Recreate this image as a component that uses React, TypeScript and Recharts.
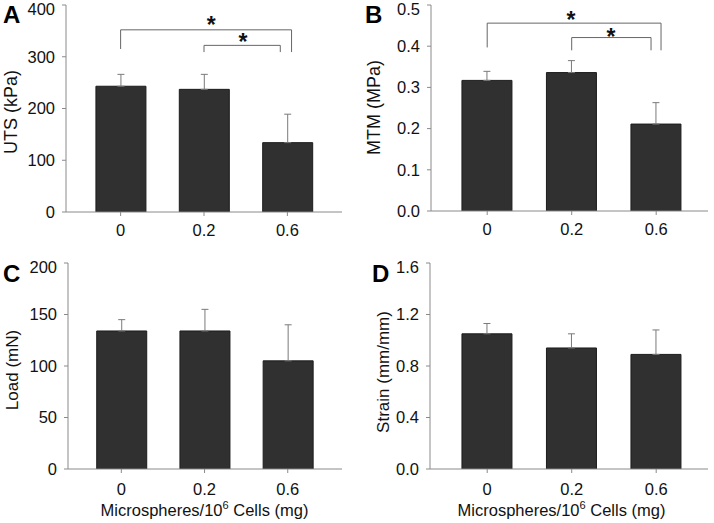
import React from 'react';
import { BarChart, Bar, XAxis, YAxis, ErrorBar, ReferenceLine, ReferenceDot } from 'recharts';

const FONT = '"Liberation Sans", Arial, Helvetica, sans-serif';

// ---- data ----
const categories = ['0', '0.2', '0.6'];
const utsMean = [243, 237, 134];
const utsErr = [23, 29, 55];
const mtmMean = [0.317, 0.336, 0.211];
const mtmErr = [0.022, 0.029, 0.052];
const loadMean = [134, 134, 105];
const loadErr = [11, 21, 35];
const strainMean = [1.05, 0.94, 0.89];
const strainErr = [0.08, 0.11, 0.19];

const utsTicks = [0, 100, 200, 300, 400];
const mtmTicks = [0, 0.1, 0.2, 0.3, 0.4, 0.5];
const loadTicks = [0, 50, 100, 150, 200];
const strainTicks = [0, 0.4, 0.8, 1.2, 1.6];

const utsBrackets = [
  { x1: 0, x2: 2.05, y: 352, yL: 315, yR: 309 },
  { x1: 1, x2: 1.915, y: 322, yL: 309, yR: 309 },
];
const utsStars = [
  { x: 1.088, y: 361 },
  { x: 1.468, y: 328 },
];
const mtmBrackets = [
  { x1: 0, x2: 2.057, y: 0.456, yL: 0.397, yR: 0.39 },
  { x1: 1, x2: 1.939, y: 0.421, yL: 0.39, yR: 0.39 },
];
const mtmStars = [
  { x: 0.992, y: 0.465 },
  { x: 1.465, y: 0.423 },
];

type Bracket = { x1: number; x2: number; y: number; yL: number; yR: number };
type Star = { x: number; y: number };

type PanelProps = {
  left: number;
  top: number;
  width: number;
  height: number;
  margin: { top: number; right: number; bottom: number; left: number };
  yAxisWidth: number;
  xAxisHeight: number;
  xTickMargin: number;
  xDomain: [number, number];
  yDomain: [number, number];
  yTicks: number[];
  yFormat: (v: number) => string;
  means: number[];
  errs: number[];
  letter: string;
  letterPos: [number, number];
  yTitle: string;
  yTitleSize: number;
  yTitlePos: [number, number];
  showXTitle: boolean;
  brackets?: Bracket[];
  stars?: Star[];
};

const TEXT = '#111';
const AXIS = '#8a8a8a';
const BOX = '#b0b0b0';

function Panel(p: PanelProps) {
  const data = categories.map((c, i) => ({ x: i, label: c, mean: p.means[i], err: [0, p.errs[i]] }));
  const yTitleLabel = () => (
    <g>
      <text x={p.letterPos[0]} y={p.letterPos[1]} fontSize={24} fontWeight="bold" fill="#000" fontFamily={FONT}>
        {p.letter}
      </text>
      <text
        x={p.yTitlePos[0]}
        y={p.yTitlePos[1]}
        transform={`rotate(-90 ${p.yTitlePos[0]} ${p.yTitlePos[1]})`}
        textAnchor="middle"
        dominantBaseline="central"
        fontSize={p.yTitleSize}
        fill={TEXT}
        fontFamily={FONT}
      >
        {p.yTitle}
      </text>
    </g>
  );
  const xTitleLabel = () => (
    <text x={204.5} y={265.7} textAnchor="middle" fontSize={16.5} fill={TEXT} fontFamily={FONT}>
      Microspheres/10<tspan fontSize={11} dy={-7}>6</tspan>
      <tspan dy={7}> Cells (mg)</tspan>
    </text>
  );
  const YTick = (t: any) => {
    const v = t.payload.value;
    const shift = v === p.yDomain[1] ? 4 : 0;
    return (
      <text x={t.x} y={t.y + shift} dy="0.355em" textAnchor="end" fontSize={16.5} fill={TEXT} fontFamily={FONT}>
        {p.yFormat(v)}
      </text>
    );
  };
  return (
    <div style={{ position: 'absolute', left: p.left, top: p.top }}>
      <BarChart width={p.width} height={p.height} data={data} margin={p.margin} style={{ fontFamily: FONT }}>
        <XAxis
          xAxisId="top"
          orientation="top"
          type="number"
          domain={p.xDomain}
          allowDataOverflow
          height={0}
          tick={false}
          tickLine={false}
          axisLine={{ stroke: BOX }}
        />
        <YAxis
          yAxisId="right"
          orientation="right"
          type="number"
          domain={p.yDomain}
          allowDataOverflow
          width={0}
          tick={false}
          tickLine={false}
          axisLine={{ stroke: BOX }}
        />
        <XAxis
          dataKey="x"
          type="number"
          domain={p.xDomain}
          allowDataOverflow
          ticks={[0, 1, 2]}
          interval={0}
          tickFormatter={(v: number) => categories[v]}
          height={p.xAxisHeight}
          tickSize={4}
          tickMargin={p.xTickMargin}
          tick={{ fontSize: 16.5, fill: TEXT }}
          axisLine={{ stroke: AXIS }}
          tickLine={{ stroke: AXIS }}
          label={p.showXTitle ? xTitleLabel : undefined}
        />
        <YAxis
          type="number"
          domain={p.yDomain}
          allowDataOverflow
          ticks={p.yTicks}
          interval={0}
          width={p.yAxisWidth}
          tickSize={4}
          tickMargin={7}
          tick={YTick}
          axisLine={{ stroke: AXIS }}
          tickLine={{ stroke: AXIS }}
          label={yTitleLabel}
        />
        <Bar dataKey="mean" fill="#303030" stroke="#1c1c1c" barSize={50} isAnimationActive={false}>
          <ErrorBar dataKey="err" width={3.5} stroke="#7a7a7a" strokeWidth={1} direction="y" />
        </Bar>
        {(p.brackets || []).map((b, i) => (
          <ReferenceLine
            key={`h${i}`}
            segment={[{ x: b.x1, y: b.y }, { x: b.x2, y: b.y }]}
            stroke="#666"
            strokeWidth={1}
          />
        ))}
        {(p.brackets || []).map((b, i) => (
          <ReferenceLine
            key={`l${i}`}
            segment={[{ x: b.x1, y: b.y }, { x: b.x1, y: b.yL }]}
            stroke="#666"
            strokeWidth={1}
          />
        ))}
        {(p.brackets || []).map((b, i) => (
          <ReferenceLine
            key={`r${i}`}
            segment={[{ x: b.x2, y: b.y }, { x: b.x2, y: b.yR }]}
            stroke="#666"
            strokeWidth={1}
          />
        ))}
        {(p.stars || []).map((s, i) => (
          <ReferenceDot
            key={`s${i}`}
            x={s.x}
            y={s.y}
            r={0}
            fill="none"
            stroke="none"
            label={{ value: '*', position: 'center', fontSize: 23, fontWeight: 'bold', fill: '#111', fontFamily: FONT }}
          />
        ))}
      </BarChart>
    </div>
  );
}

const int = (v: number) => String(v);
const one = (v: number) => v.toFixed(1);

export default function App() {
  return (
    <div style={{ position: 'absolute', left: 0, top: 0, width: 714, height: 523, background: '#fff', overflow: 'hidden' }}>
      <Panel
        left={0}
        top={0}
        width={357}
        height={250}
        margin={{ top: 5, right: 15, bottom: 8, left: 0 }}
        yAxisWidth={66}
        xAxisHeight={30}
        xTickMargin={8}
        xDomain={[-0.655, 2.655]}
        yDomain={[0, 400]}
        yTicks={utsTicks}
        yFormat={int}
        means={utsMean}
        errs={utsErr}
        letter="A"
        letterPos={[3, 22.7]}
        yTitle="UTS (kPa)"
        yTitleSize={18}
        yTitlePos={[11, 112]}
        showXTitle={false}
        brackets={utsBrackets}
        stars={utsStars}
      />
      <Panel
        left={357}
        top={0}
        width={357}
        height={250}
        margin={{ top: 5, right: 6, bottom: 9, left: 0 }}
        yAxisWidth={74}
        xAxisHeight={30}
        xTickMargin={8}
        xDomain={[-0.665, 2.613]}
        yDomain={[0, 0.5]}
        yTicks={mtmTicks}
        yFormat={one}
        means={mtmMean}
        errs={mtmErr}
        letter="B"
        letterPos={[8, 22.7]}
        yTitle="MTM (MPa)"
        yTitleSize={18}
        yTitlePos={[16.5, 107.5]}
        showXTitle={false}
        brackets={mtmBrackets}
        stars={mtmStars}
      />
      <Panel
        left={0}
        top={250}
        width={357}
        height={273}
        margin={{ top: 13, right: 15, bottom: 0, left: 0 }}
        yAxisWidth={68}
        xAxisHeight={54}
        xTickMargin={10}
        xDomain={[-0.641, 2.652]}
        yDomain={[0, 200]}
        yTicks={loadTicks}
        yFormat={int}
        means={loadMean}
        errs={loadErr}
        letter="C"
        letterPos={[3, 31.7]}
        yTitle="Load (mN)"
        yTitleSize={17}
        yTitlePos={[12.5, 120]}
        showXTitle={true}
      />
      <Panel
        left={357}
        top={250}
        width={357}
        height={273}
        margin={{ top: 13, right: 6, bottom: 0, left: 0 }}
        yAxisWidth={73}
        xAxisHeight={54}
        xTickMargin={10}
        xDomain={[-0.677, 2.613]}
        yDomain={[0, 1.6]}
        yTicks={strainTicks}
        yFormat={one}
        means={strainMean}
        errs={strainErr}
        letter="D"
        letterPos={[15, 31.7]}
        yTitle="Strain (mm/mm)"
        yTitleSize={17}
        yTitlePos={[26.5, 122]}
        showXTitle={true}
      />
    </div>
  );
}
